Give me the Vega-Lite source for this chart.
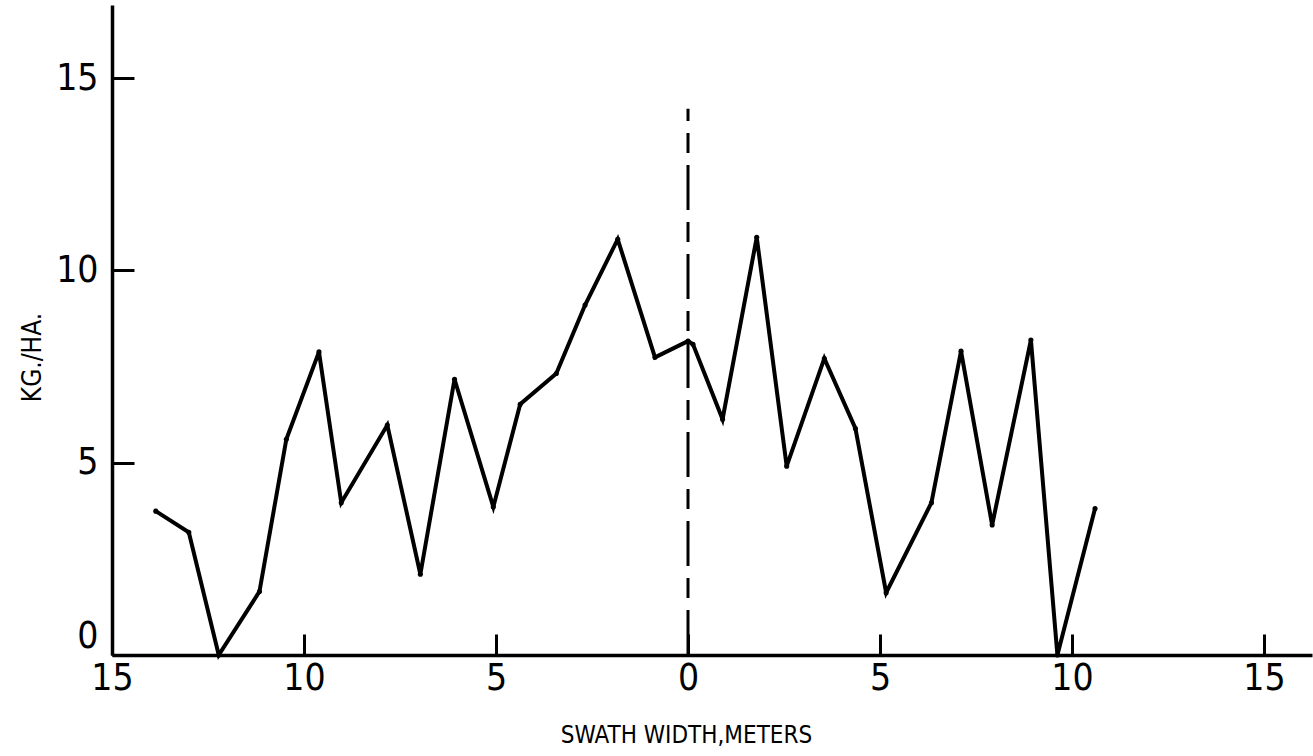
{
  "$schema": "https://vega.github.io/schema/vega-lite/v6.json",
  "width": 1200,
  "height": 650,
  "autosize": {"type": "none"},
  "padding": {"left": 112, "top": 5, "right": 1, "bottom": 101},
  "background": "white",
  "config": {"view": {"stroke": null}, "font": "DejaVu Sans Condensed"},
  "layer": [
    {
      "data": {"values": [
        {"swath": -13.86, "kg": 3.74},
        {"swath": -13.00, "kg": 3.19},
        {"swath": -12.22, "kg": 0.0},
        {"swath": -11.16, "kg": 1.65},
        {"swath": -10.46, "kg": 5.61},
        {"swath": -9.61, "kg": 7.88},
        {"swath": -9.03, "kg": 3.96},
        {"swath": -7.83, "kg": 5.98},
        {"swath": -6.97, "kg": 2.10},
        {"swath": -6.08, "kg": 7.17},
        {"swath": -5.07, "kg": 3.85},
        {"swath": -4.37, "kg": 6.52},
        {"swath": -3.43, "kg": 7.32},
        {"swath": -2.68, "kg": 9.10},
        {"swath": -1.83, "kg": 10.81},
        {"swath": -0.86, "kg": 7.74},
        {"swath": 0.0, "kg": 8.16},
        {"swath": 0.13, "kg": 8.08},
        {"swath": 0.90, "kg": 6.13},
        {"swath": 1.79, "kg": 10.86},
        {"swath": 2.57, "kg": 4.91},
        {"swath": 3.55, "kg": 7.71},
        {"swath": 4.36, "kg": 5.89},
        {"swath": 5.16, "kg": 1.62},
        {"swath": 6.34, "kg": 3.96},
        {"swath": 7.11, "kg": 7.90},
        {"swath": 7.92, "kg": 3.38},
        {"swath": 8.93, "kg": 8.19},
        {"swath": 9.62, "kg": 0.0},
        {"swath": 10.60, "kg": 3.81}
      ]},
      "mark": {"type": "line", "color": "black", "strokeWidth": 4, "point": {"filled": true, "size": 26, "color": "black"}},
      "encoding": {
        "x": {
          "field": "swath", "type": "quantitative",
          "scale": {"domain": [-15, 16.25], "nice": false, "zero": false},
          "axis": {
            "values": [-15, -10, -5, 0, 5, 10, 15],
            "labelExpr": "'' + abs(datum.value)",
            "title": "SWATH WIDTH,METERS",
            "grid": false,
            "domainColor": "black", "domainWidth": 3.5,
            "tickColor": "black", "tickWidth": 3, "tickSize": -21,
            "labelFontSize": 37, "labelColor": "black", "labelFont": "DejaVu Sans Condensed",
            "labelBaseline": "top", "labelPadding": 26, "labelOverlap": false, "labelFlush": false,
            "titleFontSize": 24, "titleFontWeight": "normal", "titleColor": "black", "titleFont": "DejaVu Sans Condensed",
            "titleX": 574, "titleY": 68, "titleAlign": "center", "titleBaseline": "top"
          }
        },
        "y": {
          "field": "kg", "type": "quantitative",
          "scale": {"domain": [0, 16.9], "nice": false},
          "axis": {
            "values": [0, 5, 10, 15],
            "title": "KG./HA.",
            "grid": false,
            "domainColor": "black", "domainWidth": 3.5,
            "tickColor": "black", "tickWidth": 3, "tickSize": -22,
            "labelFontSize": 37, "labelColor": "black", "labelFont": "DejaVu Sans Condensed",
            "labelPadding": 36, "labelOverlap": false, "labelFlush": true,
            "titleFontSize": 26, "titleFontWeight": "normal", "titleColor": "black", "titleFont": "DejaVu Sans Condensed",
            "titleAngle": -90, "titleX": -80, "titleY": 352, "titleAlign": "center", "titleBaseline": "middle"
          }
        }
      }
    },
    {
      "data": {"values": [{"x": 0, "y0": 0, "y1": 14.2}]},
      "mark": {"type": "rule", "color": "black", "strokeWidth": 3, "strokeDash": [45, 12, 20, 12]},
      "encoding": {
        "x": {"field": "x", "type": "quantitative"},
        "y": {"field": "y0", "type": "quantitative"},
        "y2": {"field": "y1"}
      }
    }
  ]
}
